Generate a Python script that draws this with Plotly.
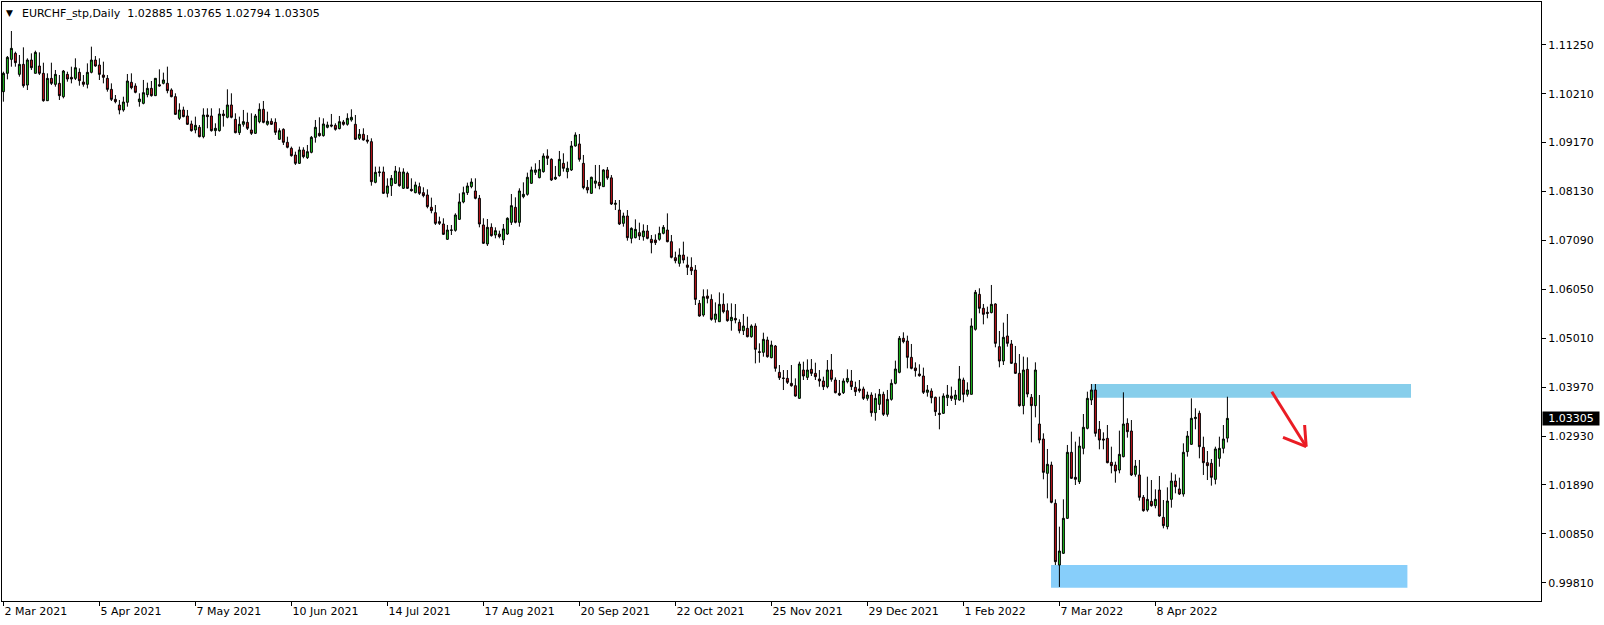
import plotly.graph_objects as go

# ---------------- data ----------------
opens = [
1.10253,1.10643,1.10940,1.11068,1.10621,1.10834,1.10394,1.10926,1.10643,1.10799,
1.10643,1.10061,1.10536,1.10409,1.10430,1.10146,1.10621,1.10558,1.10536,1.10664,
1.10458,1.10409,1.10664,1.10926,1.10820,1.10607,1.10536,1.10302,1.10090,1.09969,
1.09863,
1.10027,1.10452,1.10374,1.10041,1.10005,1.10190,1.10324,1.10168,1.10402,1.10431,
1.10431,1.10289,1.10147,1.09686,1.09864,1.09736,1.09566,1.09438,1.09495,1.09296,
1.09757,1.09736,1.09424,1.09424,1.09778,1.09708,1.09970,1.09665,1.09381,1.09559,
1.09601,1.09438,1.09367,1.09615,1.09878,1.09559,1.09623,1.09601,1.09240,1.09452,
1.09176,1.09048,1.08906,1.08729,1.09013,1.08850,1.08963,1.09282,1.09367,1.09318,
1.09495,1.09545,1.09537,1.09467,1.09608,1.09559,1.09651,1.09559,1.09261,1.09346,
1.09226,
1.09190,1.08325,1.08531,1.08545,1.08091,1.08254,1.08304,1.08545,1.08198,1.08517,
1.08176,1.08105,1.08233,1.08105,1.08056,1.07794,1.07680,1.07489,1.07439,1.07113,
1.07304,1.07304,1.07538,1.07907,1.08105,1.08233,1.08141,1.07985,
1.07418,1.07014,1.07368,1.07205,1.07226,1.07099,1.07226,1.07474,1.07793,1.07474,
1.08020,1.08070,1.08304,1.08538,1.08424,1.08552,1.08885,1.08814,1.08396,1.08467,
1.08729,1.08552,1.08588,1.09098,1.09141,1.08729,1.08219,1.08091,1.08304,1.08325,
1.08233,
1.08588,1.08420,
1.07857,1.07736,1.07453,1.07609,1.07134,1.07148,1.07254,1.07169,1.07290,1.07113,
1.07098,1.07113,1.07240,1.07311,1.07063,1.06722,1.06602,1.06779,1.06566,1.06517,
1.06460,1.05751,1.05503,1.05907,1.05836,1.05411,1.05361,1.05730,
1.05595,1.05383,1.05432,1.05347,1.05170,1.05220,1.05042,1.05269,1.04723,1.04709,
1.04972,1.04596,1.04844,1.04284,1.04163,1.04156,1.04050,1.04000,1.03731,1.04333,
1.04177,1.04348,1.04262,1.04142,1.04100,1.03979,1.04333,1.04121,1.03837,1.03851,
1.04086,1.04100,1.03965,1.03930,1.03930,1.03731,1.03802,1.03426,1.03604,1.03816,
1.03391,1.03710,1.04050,1.04284,1.05008,1.04951,1.04603,1.04377,1.04249,1.04206,
1.03859,1.03887,1.03753,1.03412,1.03412,1.03745,1.03781,1.03710,1.03696,1.04121,
1.03816,1.03816,1.05199,1.05943,1.05646,1.05561,1.05554,1.05738,1.04830,1.04525,
1.05057,1.04887,1.04476,1.04263,1.03575,1.04348,1.03753,1.03575,1.03185,1.02866,
1.02136,1.02313,1.01498,1.00186,1.00435,1.01179,1.02583,1.02051,1.01959,1.02668,
1.03093,1.03696,1.03909,1.03072,1.02866,1.02880,1.02370,1.02313,1.02207,1.02491,
1.03199,1.03036,1.02115,1.02101,1.01626,1.01356,1.01541,1.01448,1.01781,1.01200,
1.01002,1.01583,1.01973,1.01803,1.01696,1.02597,1.02753,1.03299,1.03412,1.02689,
1.02363,1.02349,1.02008,1.02455,1.02668,1.02885,
]

highs = [
1.10678,1.11011,1.11543,1.11103,1.11033,1.11196,1.10962,1.11068,1.11125,1.11089,
1.10869,1.10643,1.10869,1.10714,1.10607,1.10714,1.10678,1.10784,1.10962,1.10749,
1.10607,1.10855,1.11210,1.11011,1.10962,1.10891,1.10607,1.10430,1.10182,1.10076,
1.10146,
1.10629,1.10643,1.10431,1.10218,1.10502,1.10445,1.10480,1.10537,1.10728,1.10658,
1.10785,1.10324,1.10218,1.10005,1.09934,1.09864,1.09637,1.09722,1.09544,1.09899,
1.09899,1.09899,1.09580,1.09899,1.09864,1.10303,1.10218,1.09793,1.09722,1.09864,
1.09807,1.09793,1.09779,1.10005,1.10055,1.09828,1.09686,1.09686,1.09474,1.09474,
1.09296,1.09084,1.08977,1.09084,1.09070,1.09119,1.09311,1.09651,1.09708,1.09686,
1.09615,1.09779,1.09580,1.09736,1.09651,1.09793,1.09878,1.09757,1.09459,1.09474,
1.09330,
1.09261,1.08659,1.08659,1.08659,1.08410,1.08481,1.08673,1.08644,1.08623,1.08552,
1.08410,1.08339,1.08318,1.08219,1.08176,1.07999,1.07843,1.07595,1.07560,1.07418,
1.07418,1.07666,1.08091,1.08233,1.08318,1.08410,1.08410,1.08056,
1.07560,1.07545,1.07453,1.07368,1.07297,1.07439,1.07581,1.08077,1.08006,1.08198,
1.08325,1.08531,1.08658,1.08729,1.08800,1.08942,1.09027,1.08836,1.08673,1.08992,
1.08942,1.08765,1.09204,1.09389,1.09353,1.08907,1.08375,1.08446,1.08694,1.08694,
1.08602,
1.08650,1.08480,
1.07949,1.07949,1.07680,1.07736,1.07368,1.07538,1.07467,1.07431,1.07417,1.07205,
1.07219,1.07382,1.07417,1.07665,1.07205,1.06850,1.06921,1.07063,1.06744,1.06730,
1.06566,1.05822,1.06049,1.06049,1.05943,1.05772,1.05985,1.05964,
1.05751,1.05751,1.05737,1.05411,1.05525,1.05468,1.05305,1.05326,1.04901,1.05127,
1.05042,1.04957,1.04865,1.04440,1.04333,1.04333,1.04440,1.04156,1.04511,1.04511,
1.04560,1.04567,1.04489,1.04333,1.04192,1.04546,1.04674,1.04177,1.04121,1.04156,
1.04348,1.04334,1.04086,1.04121,1.03980,1.03873,1.03859,1.03838,1.03930,1.03873,
1.03909,1.04135,1.04533,1.05057,1.05135,1.05064,1.04887,1.04497,1.04455,1.04384,
1.04015,1.03944,1.03767,1.03767,1.03838,1.04015,1.03980,1.03909,1.04419,1.04171,
1.04072,1.05433,1.06036,1.06071,1.05738,1.05681,1.06142,1.05752,1.05164,1.05341,
1.05525,1.04972,1.04845,1.04674,1.04618,1.04603,1.03823,1.04497,1.03802,1.02987,
1.02654,1.02384,1.01583,1.01002,1.01583,1.02739,1.03022,1.02810,1.02916,1.03398,
1.03873,1.04036,1.04036,1.03249,1.03008,1.03164,1.02703,1.02384,1.03044,1.03859,
1.03306,1.03270,1.02420,1.02420,1.01675,1.02065,1.01994,1.01796,1.02079,1.01569,
1.01838,1.02150,1.02115,1.02044,1.02774,1.03036,1.03731,1.03519,1.03469,1.02916,
1.02611,1.02441,1.02703,1.02916,1.03164,1.03765,
]

lows = [
1.10040,1.10515,1.10784,1.10784,1.10572,1.10338,1.10288,1.10714,1.10643,1.10607,
1.10040,1.10054,1.10394,1.10359,1.10076,1.10111,1.10465,1.10430,1.10501,1.10380,
1.10359,1.10323,1.10643,1.10784,1.10501,1.10430,1.10253,1.10054,1.10005,1.09771,
1.09827,
1.09934,1.10303,1.10218,1.09934,1.09984,1.10133,1.10147,1.10161,1.10360,1.10409,
1.10218,1.10133,1.09757,1.09651,1.09708,1.09544,1.09403,1.09367,1.09282,1.09261,
1.09474,1.09403,1.09311,1.09403,1.09509,1.09686,1.09686,1.09367,1.09332,1.09509,
1.09438,1.09332,1.09353,1.09580,1.09580,1.09530,1.09545,1.09332,1.09226,1.09119,
1.09048,1.08871,1.08694,1.08715,1.08836,1.08821,1.08942,1.09169,1.09296,1.09296,
1.09474,1.09495,1.09424,1.09452,1.09530,1.09530,1.09615,1.09226,1.09226,1.09212,
1.09150,
1.08254,1.08304,1.08446,1.08077,1.08006,1.08035,1.08290,1.08233,1.08183,1.08183,
1.08127,1.08091,1.08056,1.08006,1.07772,1.07666,1.07418,1.07418,1.07205,1.07099,
1.07205,1.07276,1.07524,1.07879,1.08056,1.08198,1.07964,1.07368,
1.07014,1.06971,1.07170,1.07134,1.07134,1.06992,1.07205,1.07418,1.07453,1.07382,
1.07985,1.08042,1.08290,1.08481,1.08410,1.08531,1.08694,1.08354,1.08375,1.08446,
1.08552,1.08410,1.08566,1.09084,1.08765,1.08176,1.08091,1.08077,1.08198,1.08176,
1.08233,
1.08380,1.07843,
1.07736,1.07417,1.07382,1.07084,1.07027,1.07134,1.07098,1.07084,1.07113,1.06815,
1.06992,1.07084,1.07219,1.07049,1.06708,1.06602,1.06531,1.06602,1.06354,1.06354,
1.05716,1.05467,1.05467,1.05751,1.05382,1.05340,1.05361,1.05538,
1.05361,1.05170,1.05326,1.05113,1.05078,1.05028,1.05021,1.04475,1.04489,1.04617,
1.04596,1.04582,1.04298,1.04121,1.03908,1.04036,1.03979,1.03766,1.03724,1.04121,
1.04121,1.04206,1.04121,1.03979,1.03908,1.03944,1.04085,1.03837,1.03780,1.03823,
1.04050,1.03909,1.03781,1.03852,1.03696,1.03682,1.03341,1.03256,1.03483,1.03356,
1.03341,1.03682,1.04029,1.04263,1.04901,1.04369,1.04348,1.04192,1.04192,1.03823,
1.03767,1.03625,1.03356,1.03072,1.03398,1.03568,1.03675,1.03590,1.03682,1.03646,
1.03767,1.03816,1.05171,1.05539,1.05305,1.05433,1.05539,1.04816,1.04391,1.04440,
1.04830,1.04462,1.04249,1.03554,1.03391,1.03753,1.02795,1.03327,1.02774,1.02009,
1.01604,1.01498,1.00186,0.99720,1.00420,1.01165,1.02016,1.01888,1.01909,1.02540,
1.03072,1.03589,1.02916,1.02647,1.02647,1.02349,1.02136,1.01937,1.02136,1.02476,
1.02895,1.02079,1.02065,1.01555,1.01321,1.01321,1.01427,1.01392,1.01214,1.00966,
1.00945,1.01406,1.01711,1.01675,1.01640,1.02491,1.02739,1.03072,1.02455,1.02101,
1.01994,1.01874,1.01902,1.02278,1.02561,1.02794,
]

closes = [
1.10643,1.10983,1.11174,1.10869,1.10834,1.10380,1.10926,1.10763,1.11089,1.10643,
1.10061,1.10536,1.10430,1.10621,1.10168,1.10692,1.10522,1.10522,1.10763,1.10487,
1.10409,1.10664,1.10926,1.10799,1.10621,1.10558,1.10302,1.10090,1.10040,1.09863,
1.10033,
1.10480,1.10338,1.10239,1.10097,1.10232,1.10324,1.10168,1.10537,1.10374,1.10502,
1.10275,1.10147,1.09771,1.09864,1.09722,1.09559,1.09424,1.09537,1.09296,1.09757,
1.09722,1.09424,1.09474,1.09778,1.09743,1.09970,1.09708,1.09381,1.09559,1.09615,
1.09474,1.09367,1.09736,1.09878,1.09601,1.09623,1.09559,1.09389,1.09424,1.09176,
1.09070,1.08892,1.08729,1.09013,1.08871,1.08977,1.09282,1.09495,1.09318,1.09566,
1.09545,1.09523,1.09452,1.09615,1.09559,1.09686,1.09708,1.09240,1.09346,1.09226,
1.09200,
1.08339,1.08538,1.08545,1.08091,1.08247,1.08410,1.08566,1.08254,1.08545,1.08198,
1.08148,1.08269,1.08091,1.08042,1.07808,1.07723,1.07453,1.07453,1.07219,1.07311,
1.07311,1.07630,1.07907,1.08105,1.08247,1.08332,1.07985,1.07439,
1.07028,1.07368,1.07191,1.07297,1.07170,1.07333,1.07560,1.07829,1.07474,1.08141,
1.08070,1.08432,1.08588,1.08588,1.08602,1.08885,1.08836,1.08375,1.08432,1.08814,
1.08623,1.08623,1.09098,1.09332,1.08814,1.08212,1.08162,1.08432,1.08354,1.08254,
1.08588,
1.08420,1.07864,
1.07878,1.07439,1.07609,1.07148,1.07346,1.07325,1.07183,1.07290,1.07134,1.07042,
1.07042,1.07240,1.07368,1.07063,1.06730,1.06659,1.06779,1.06673,1.06517,1.06446,
1.05836,1.05482,1.05893,1.05857,1.05411,1.05524,1.05730,1.05574,
1.05383,1.05454,1.05397,1.05170,1.05269,1.05042,1.05269,1.04773,1.04709,1.04986,
1.04617,1.04865,1.04369,1.04170,1.04156,1.04071,1.04000,1.03780,1.04461,1.04206,
1.04333,1.04262,1.04192,1.04100,1.03979,1.04333,1.04135,1.03851,1.03802,1.04100,
1.04157,1.03980,1.03873,1.03894,1.03731,1.03802,1.03426,1.03731,1.03816,1.03391,
1.03710,1.04050,1.04355,1.05008,1.04937,1.04603,1.04369,1.04320,1.04213,1.03859,
1.03909,1.03745,1.03448,1.03391,1.03781,1.03802,1.03731,1.03802,1.04143,1.03816,
1.03909,1.05270,1.05986,1.05646,1.05518,1.05539,1.05731,1.04901,1.04525,1.05029,
1.04901,1.04476,1.04263,1.03575,1.04334,1.03823,1.03575,1.04334,1.02845,1.02157,
1.02328,1.01519,1.00257,1.00484,1.01179,1.02583,1.02030,1.02009,1.02717,1.03115,
1.03731,1.03909,1.02987,1.02845,1.02845,1.02363,1.02299,1.02186,1.02540,1.03185,
1.03022,1.02101,1.02292,1.01626,1.01342,1.01583,1.01448,1.01583,1.01228,1.01023,
1.01548,1.01973,1.01852,1.01696,1.02583,1.02930,1.03306,1.03327,1.02703,1.02363,
1.02299,1.02051,1.02654,1.02668,1.02866,1.03305,
]

date_labels = ["2 Mar 2021", "5 Apr 2021", "7 May 2021", "10 Jun 2021", "14 Jul 2021",
               "17 Aug 2021", "20 Sep 2021", "22 Oct 2021", "25 Nov 2021", "29 Dec 2021",
               "1 Feb 2022", "7 Mar 2022", "8 Apr 2022"]
label_step = 24  # bars between date labels

price_ticks = ["1.11250", "1.10210", "1.09170", "1.08130", "1.07090", "1.06050",
               "1.05010", "1.03970", "1.02930", "1.01890", "1.00850", "0.99810"]

symbol = "EURCHF_stp,Daily"
last_price = "1.03305"

# zones (bar index range, price range)
upper_zone = dict(x0=272.1, x1=351.9, y0=1.03744, y1=1.04036)
lower_zone = dict(x0=261.9, x1=351.0, y0=0.99704, y1=1.00186)
# hand-drawn arrow (bar index, price)
arrow_shaft = [(317.1, 1.03872), (325.7, 1.02702)]
arrow_wings = [(319.9, 1.02902), (325.3, 1.03164)]

# ---------------- figure ----------------
n = len(closes)
idx = list(range(n))

fig = go.Figure()
fig.add_trace(go.Candlestick(
    x=idx, open=opens, high=highs, low=lows, close=closes,
    increasing=dict(line=dict(color="black", width=1), fillcolor="#1fc21f"),
    decreasing=dict(line=dict(color="black", width=1), fillcolor="#c8141a"),
    whiskerwidth=0, hoverinfo="skip", showlegend=False,
))

shapes = []
shapes.append(dict(type="rect", xref="x", yref="y", layer="below", line=dict(width=0),
                   fillcolor="#87ceeb", **upper_zone))
shapes.append(dict(type="rect", xref="x", yref="y", layer="below", line=dict(width=0),
                   fillcolor="#87cefa", **lower_zone))
tip = arrow_shaft[1]
shapes.append(dict(type="line", xref="x", yref="y", x0=arrow_shaft[0][0], y0=arrow_shaft[0][1],
                   x1=tip[0], y1=tip[1], line=dict(color="#ea1c24", width=3)))
for w in arrow_wings:
    shapes.append(dict(type="line", xref="x", yref="y", x0=w[0], y0=w[1],
                       x1=tip[0], y1=tip[1], line=dict(color="#ea1c24", width=3)))

annotations = [
    dict(text="▼", xref="paper", yref="paper", x=0, y=1, xanchor="left", yanchor="top",
         xshift=2, yshift=-4, showarrow=False, font=dict(family="DejaVu Sans", size=9, color="black")),
    dict(text=f"{symbol}  {opens[-1]:.5f} {highs[-1]:.5f} {lows[-1]:.5f} {closes[-1]:.5f}",
         xref="paper", yref="paper", x=0, y=1, xanchor="left", yanchor="top",
         xshift=18, yshift=-3, showarrow=False,
         font=dict(family="DejaVu Sans", size=11, color="black")),
    dict(text=last_price, xref="paper", yref="y", x=1, y=float(last_price),
         xanchor="left", yanchor="middle", showarrow=False, xshift=1,
         bgcolor="black", borderpad=1, width=54, height=11, align="center",
         font=dict(family="DejaVu Sans", size=11, color="white")),
]

fig.update_layout(
    width=1604, height=625,
    margin=dict(l=2, r=63, t=2, b=24, autoexpand=False),
    paper_bgcolor="white", plot_bgcolor="white",
    shapes=shapes, annotations=annotations,
    xaxis=dict(
        range=[-0.35, 384.4],
        rangeslider=dict(visible=False),
        showgrid=False, zeroline=False, automargin=False,
        showline=True, linecolor="black", linewidth=1, mirror=True,
        tickmode="array",
        tickvals=[i * label_step for i in range(len(date_labels))],
        ticktext=date_labels,
        ticks="outside", ticklen=4, tickcolor="black",
        ticklabelposition="outside right",
        tickfont=dict(family="DejaVu Sans", size=11, color="black"),
    ),
    yaxis=dict(
        side="right",
        range=[0.99421, 1.12160],
        showgrid=False, zeroline=False, automargin=False,
        showline=True, linecolor="black", linewidth=1, mirror=True,
        tickmode="array",
        tickvals=[float(t) for t in price_ticks],
        ticktext=price_ticks,
        ticks="outside", ticklen=4, tickcolor="black",
        tickfont=dict(family="DejaVu Sans", size=11, color="black"),
    ),
)

fig.write_html("out.html",
               config={"displayModeBar": False},
               post_script="document.body.style.margin='0';document.body.style.padding='0';")
